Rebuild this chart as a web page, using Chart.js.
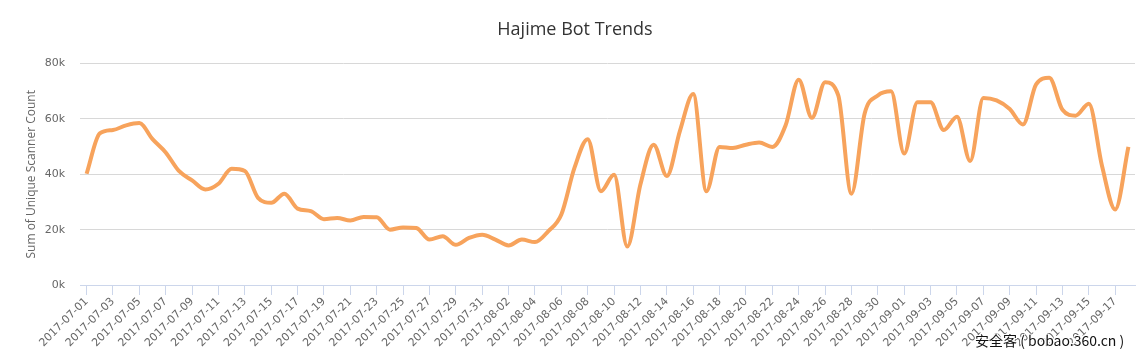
<!DOCTYPE html>
<html>
<head>
<meta charset="utf-8">
<title>Hajime Bot Trends</title>
<script src="https://cdn.jsdelivr.net/npm/chart.js@4.4.0/dist/chart.umd.min.js"></script>
<style>
  html, body { margin: 0; padding: 0; background: #fff; }
  #wrap { position: relative; width: 1144px; height: 359px; }
  #mark {
    position: absolute; left: 975px; top: 330px;
    font: 14px "Noto Sans CJK SC", sans-serif; color: #111;
    text-shadow: 1px 1px 0 #fff, -1px -1px 0 #fff, 1px -1px 0 #fff, -1px 1px 0 #fff;
    white-space: nowrap;
  }
</style>
</head>
<body>
<div id="wrap">
  <canvas id="myChart" width="1144" height="359"></canvas>
  <div id="mark">安全客 ( bobao.360.cn )</div>
</div>
<script>
'use strict';

////////////////////////////// data //////////////////////////////
let julyDays = ['2017-07-01','2017-07-02','2017-07-03','2017-07-04','2017-07-05','2017-07-06','2017-07-07','2017-07-08',
'2017-07-09','2017-07-10','2017-07-11','2017-07-12','2017-07-13','2017-07-14','2017-07-15','2017-07-16','2017-07-17',
'2017-07-18','2017-07-19','2017-07-20','2017-07-21','2017-07-22','2017-07-23','2017-07-24','2017-07-25','2017-07-26',
'2017-07-27','2017-07-28','2017-07-29','2017-07-30','2017-07-31'];
let augustDays = ['2017-08-01','2017-08-02','2017-08-03','2017-08-04','2017-08-05','2017-08-06','2017-08-07','2017-08-08',
'2017-08-09','2017-08-10','2017-08-11','2017-08-12','2017-08-13','2017-08-14','2017-08-15','2017-08-16','2017-08-17',
'2017-08-18','2017-08-19','2017-08-20','2017-08-21','2017-08-22','2017-08-23','2017-08-24','2017-08-25','2017-08-26',
'2017-08-27','2017-08-28','2017-08-29','2017-08-30','2017-08-31'];
let septemberDays = ['2017-09-01','2017-09-02','2017-09-03','2017-09-04','2017-09-05','2017-09-06','2017-09-07','2017-09-08',
'2017-09-09','2017-09-10','2017-09-11','2017-09-12','2017-09-13','2017-09-14','2017-09-15','2017-09-16','2017-09-17',
'2017-09-18'];
let days = julyDays.concat(augustDays, septemberDays);

let scannerCount = [40200,54800,56000,57700,58500,52700,47900,41200,37800,34500,
36600,42000,41200,31500,29700,33000,27600,26700,23800,24200,
23300,24600,24500,20000,20800,20600,16400,17600,14500,17000,
18200,16400,14300,16400,15500,19400,25500,42400,52700,33900,
39800,13900,36400,50700,39400,55800,69000,33900,49900,49500,
50700,51500,49900,57600,74200,60400,73300,68500,33000,62000,
68500,70000,47500,66000,66000,56000,60800,44800,67600,66700,
63600,58000,72500,74900,63300,61200,65500,43000,27300,49900];

let yTicks = [0, 20000, 40000, 60000, 80000];

////////////////////////////// chart //////////////////////////////
Chart.defaults.font.family = '"Open Sans", "DejaVu Sans", sans-serif';
Chart.defaults.color = '#666666';

let tickFont = { family: '"DejaVu Sans", sans-serif', size: 11 };

let ctx = document.getElementById('myChart');

let myChart = new Chart(ctx, {
    type: 'line',
    data: {
        labels: days,
        datasets: [{
            label: 'Sum of Unique Scanner Count',
            data: scannerCount,
            borderColor: '#f7a35c',
            backgroundColor: '#f7a35c',
            borderWidth: 4,
            pointRadius: 0,
            cubicInterpolationMode: 'monotone',
            fill: false
        }]
    },
    options: {
        responsive: false,
        animation: false,
        layout: { padding: { left: 15, right: 9, top: 0, bottom: 0 } },
        plugins: {
            legend: { display: false },
            tooltip: { enabled: false },
            title: {
                display: true,
                text: 'Hajime Bot Trends',
                color: '#333333',
                font: { size: 18, weight: 'normal' },
                padding: { top: 19, bottom: 23 }
            }
        },
        scales: {
            x: {
                offset: true,
                grid: {
                    drawOnChartArea: false,
                    drawTicks: true,
                    tickLength: 10,
                    color: '#ccd6eb',
                    offset: false
                },
                border: { color: '#ccd6eb' },
                ticks: {
                    autoSkip: false,
                    minRotation: 45,
                    maxRotation: 45,
                    padding: 0,
                    font: tickFont,
                    callback: function (value, index) {
                        // every other day, like the original
                        return index % 2 === 0 ? days[index] : null;
                    }
                },
                afterFit: function (scale) { scale.height = 74; }
            },
            y: {
                min: 0,
                max: 80000,
                afterBuildTicks: function (scale) {
                    scale.ticks = yTicks.map(function (v) { return { value: v }; });
                },
                grid: { color: '#d8d8d8', drawTicks: false },
                border: { display: false },
                ticks: {
                    padding: 15,
                    font: tickFont,
                    callback: function (value) { return (value / 1000) + 'k'; }
                },
                title: {
                    display: true,
                    text: 'Sum of Unique Scanner Count',
                    font: { size: 12 },
                    padding: { top: 9, bottom: 0 }
                },
                afterFit: function (scale) { scale.width = 65; }
            }
        }
    }
});
</script>
</body>
</html>
